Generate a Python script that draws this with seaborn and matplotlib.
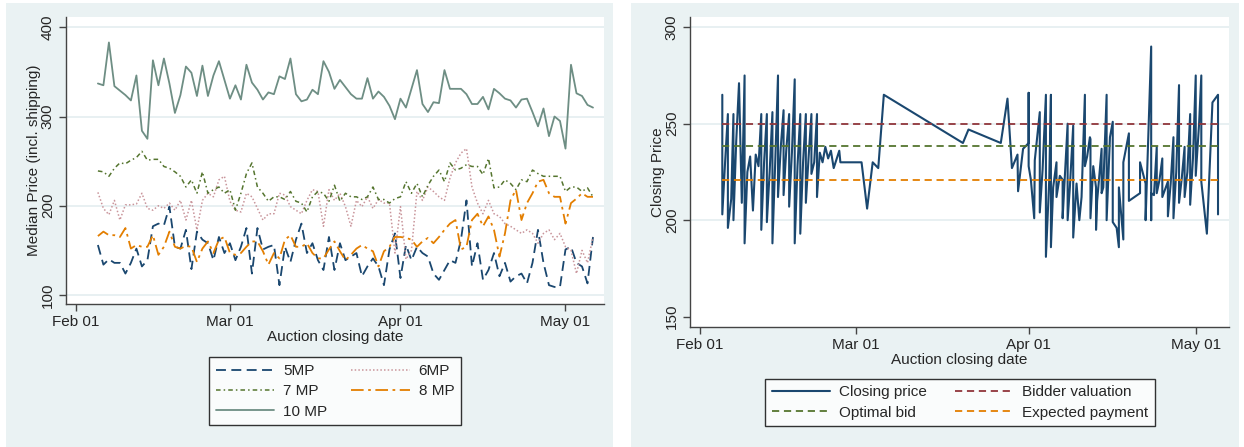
import numpy as np
import pandas as pd
import matplotlib
matplotlib.use("Agg")
import matplotlib.pyplot as plt
import matplotlib.dates as mdates
from matplotlib.patches import Rectangle
import seaborn as sns

# ---------------- data ----------------
start_left = "2007-02-05"   # first auction day of the left panel (daily medians)
n_days = 91

mp5 = [156,134,140,136,136,124,136,152,132,139,
       177,180,178,199,154,152,173,129,171,162,
       158,139,165,147,158,139,154,175,124,175,
       151,154,156,111,154,137,162,180,147,158,
       139,128,165,128,158,139,143,147,121,132,
       141,132,111,151,169,119,156,139,154,147,
       143,124,117,128,139,136,162,206,132,158,
       117,128,147,121,136,115,121,124,113,136,
       173,136,111,109,109,151,154,136,132,113,165]

mp6 = [215,197,190,206,184,201,201,202,214,197,
       195,200,197,203,195,206,184,206,173,206,
       214,210,229,233,205,195,193,214,210,197,
       184,191,191,214,212,199,195,191,206,218,
       216,177,218,206,214,199,177,206,199,210,
       197,207,203,203,147,199,140,150,216,206,
       221,216,210,206,231,248,259,264,221,203,
       191,206,191,188,180,177,173,169,173,169,
       158,169,173,162,169,154,150,124,150,136,165]

mp7 = [239,238,233,242,248,247,251,254,261,251,
       252,252,244,242,238,233,221,229,214,238,
       214,218,221,214,218,195,214,236,248,221,
       214,205,210,210,207,216,205,203,193,210,
       216,214,205,223,205,214,210,210,207,210,
       221,207,207,203,208,210,227,214,225,210,
       223,233,240,227,248,240,242,246,244,244,
       235,253,220,221,229,225,218,229,227,240,
       236,233,233,233,233,216,221,221,216,220,210]

mp8 = [166,171,167,167,165,175,152,156,154,154,
       167,145,154,171,154,152,155,154,137,152,
       160,147,162,165,147,145,147,154,160,160,
       149,134,147,141,162,167,154,154,158,147,
       141,141,151,160,149,139,145,152,156,152,
       149,132,149,154,165,165,164,162,154,160,
       164,158,165,173,180,184,151,154,184,191,
       177,188,173,143,169,206,218,184,203,214,
       227,229,214,210,210,180,203,208,214,210,210]

mp10 = [337,335,383,334,329,324,318,346,284,275,
        363,335,365,337,304,324,356,349,323,357,
        323,346,362,341,320,335,319,358,338,330,
        319,327,325,345,342,365,325,317,319,330,
        325,362,350,331,341,333,325,320,320,343,
        320,328,322,312,297,320,310,331,352,314,
        305,316,315,352,331,331,331,325,314,314,
        322,308,331,326,320,318,310,319,320,305,
        289,309,278,300,295,264,358,326,323,313,310]

left_labels = ["5MP", "6MP", "7 MP", "8 MP", "10 MP"]

# right panel: individual auctions (closing time in days after Feb 01, price)
base_date = "2007-02-01"
cp_day = [4,4,4.5,5,5,5.6,6,6,6.5,7,7.5,8,8,8.5,9,9.5,10,10.5,
          11,11,11.5,12,12,12.5,13,13,13.5,14,14,14.5,15,15,15.5,
          16,16,16.5,17,17,17.5,18,18,18.5,19,19,19.5,20,20,20.5,
          21,21,21.5,22,22.5,23,23.5,24,25,25.2,29,30,31,32,33,
          47.2,48.2,54,55.2,56,57,57.1,58,59,59,59,59.4,60,60.1,
          61,61,61.5,62.1,62.1,62.7,63,63,63.4,64,64,64.6,65.1,65.1,
          66,66,66.4,67,67,67.6,68.1,68.5,69.1,69.1,69.5,70,70.1,70.1,
          70.6,71.1,71.1,71.3,72.1,72.1,72.4,73,73,73.6,74.1,74.1,74.8,
          75.2,75.2,76,76,77,77,79,79,80,80,81,81,81,81.5,82,82,82.5,
          83,83,84,84,84.5,85,85,85.5,86,86,86.5,87,87,87.5,88,88,88.5,
          89,89,89.6,90,90,91,92,93,93]
cp_price = [265,203,230,255,196,211,255,200,241,271,209,275,188,225,233,205,234,228,
            255,195,230,255,199,225,256,188,230,275,212,238,257,213,237,
            255,207,235,273,188,228,255,193,230,255,209,233,255,224,230,
            255,212,235,230,238,232,236,227,236,230,230,206,230,227,265,
            240,247,240,263,227,234,215,237,240,266,228,221,201,231,
            256,204,226,265,181,221,265,186,217,230,212,223,221,201,
            250,200,217,249,191,219,200,212,265,228,233,243,242,201,
            228,217,195,210,237,214,217,265,200,243,251,199,196,
            186,217,190,230,245,210,214,230,219,200,290,200,214,213,238,214,221,
            232,212,220,202,219,243,201,225,270,209,222,238,212,225,255,208,232,
            275,223,250,275,220,193,261,265,203]

ref_first_day = 4
ref_last_day = 93
bidder_valuation = 250
optimal_bid = 238.5
expected_payment = 221

right_labels = ["Closing price", "Bidder valuation", "Optimal bid", "Expected payment"]

# ---------------- style ----------------
sns.set_style("ticks")
plt.rcParams["font.family"] = ["Liberation Sans", "DejaVu Sans"]
plt.rcParams["font.size"] = 11

NAVY = "#1A476F"
MAROON = "#90353B"
PINK = "#C9959B"
GREEN = "#55752F"
ORANGE = "#E37E00"
TEAL = "#6E8E84"
BG = "#EAF2F3"
GRID = "#E4EEF0"

W, H = 1244, 447
fig = plt.figure(figsize=(W / 100, H / 100), dpi=100, facecolor="white")

# panel backgrounds
fig.add_artist(Rectangle((6 / W, 0), 607 / W, 444 / H, transform=fig.transFigure,
                         facecolor=BG, edgecolor="none", zorder=-10))
fig.add_artist(Rectangle((631 / W, 0), 608 / W, 444 / H, transform=fig.transFigure,
                         facecolor=BG, edgecolor="none", zorder=-10))

axL = fig.add_axes([66 / W, 1 - 304 / H, 538 / W, 287 / H])
axR = fig.add_axes([690 / W, 1 - 326.7 / H, 538.6 / W, 309.7 / H])

# ---------------- left panel ----------------
dates = pd.date_range(start_left, periods=n_days, freq="D")
dfL = pd.DataFrame({"date": dates, "5MP": mp5, "6MP": mp6, "7 MP": mp7,
                    "8 MP": mp8, "10 MP": mp10})

styles_left = {
    "5MP": dict(color=NAVY, lw=1.3, ls=(0, (5.5, 3))),
    "6MP": dict(color=PINK, lw=1.1, ls=(0, (1, 1.4))),
    "7 MP": dict(color=GREEN, lw=1.1, ls=(0, (3, 2, 1, 2))),
    "8 MP": dict(color=ORANGE, lw=1.3, ls=(0, (7, 2.5, 1.5, 2.5))),
    "10 MP": dict(color=TEAL, lw=1.3, ls="-"),
}
for lab in left_labels:
    st = styles_left[lab]
    sns.lineplot(data=dfL, x="date", y=lab, ax=axL, color=st["color"],
                 linewidth=st["lw"], linestyle=st["ls"], label=lab,
                 estimator=None, sort=False, legend=False)

# ---------------- right panel ----------------
base = pd.Timestamp(base_date)
dfR = pd.DataFrame({"date": base + pd.to_timedelta(cp_day, unit="D"), "price": cp_price})
sns.lineplot(data=dfR, x="date", y="price", ax=axR, color=NAVY, linewidth=1.5,
             estimator=None, sort=False, label="Closing price", legend=False)

ref_dates = [base + pd.Timedelta(days=ref_first_day), base + pd.Timedelta(days=ref_last_day)]
for lab, val, col in [("Bidder valuation", bidder_valuation, MAROON),
                      ("Optimal bid", optimal_bid, GREEN),
                      ("Expected payment", expected_payment, ORANGE)]:
    dref = pd.DataFrame({"date": ref_dates, "v": [val, val]})
    sns.lineplot(data=dref, x="date", y="v", ax=axR, color=col, linewidth=1.3,
                 linestyle=(0, (4, 2.6)), label=lab, estimator=None, legend=False)

# ---------------- axes formatting ----------------
def fmt(ax, ylim, yticks, grid_ticks, ylabel, xlim_days):
    ax.set_facecolor("white")
    ax.set_ylim(*ylim)
    ax.set_xlim(base + pd.Timedelta(days=xlim_days[0]), base + pd.Timedelta(days=xlim_days[1]))
    ax.set_yticks(yticks)
    ax.set_xticks([pd.Timestamp(d) for d in ["2007-02-01", "2007-03-01", "2007-04-01", "2007-05-01"]])
    ax.xaxis.set_major_formatter(mdates.DateFormatter("%b %d"))
    for g in grid_ticks:
        ax.axhline(g, color=GRID, lw=1.2, zorder=0)
    for s in ["top", "right"]:
        ax.spines[s].set_visible(False)
    for s in ["left", "bottom"]:
        ax.spines[s].set_color("#444444")
        ax.spines[s].set_linewidth(1.0)
    ax.tick_params(axis="both", direction="out", length=5, width=1.0, color="#444444",
                   labelsize=11, pad=3)
    ax.tick_params(axis="y", labelrotation=90)
    for t in ax.get_yticklabels():
        t.set_va("center")
    ax.set_xlabel("Auction closing date", fontsize=11, labelpad=1)
    ax.set_ylabel(ylabel, fontsize=11, labelpad=0)

fmt(axL, (89.9, 411.5), [100, 200, 300, 400], [100, 200, 300, 400],
    "Median Price (incl. shipping)", (-1.8, 96.0))
fmt(axR, (144.8, 305.3), [150, 200, 250, 300], [200, 250, 300],
    "Closing Price", (-1.8, 94.9))

# ---------------- legends ----------------
hL = {l.get_label(): l for l in axL.get_lines()}
orderL = ["5MP", "7 MP", "10 MP", "6MP", "8 MP"]
legL = axL.legend([hL[k] for k in orderL], orderL, loc="center",
                  bbox_to_anchor=(335 / W, 1 - 391.4 / H), bbox_transform=fig.transFigure,
                  ncol=2, frameon=True, fancybox=False, edgecolor="black",
                  handlelength=3.8, handletextpad=0.6, columnspacing=1.6,
                  labelspacing=0.4, borderpad=0.45, fontsize=11)
legL.get_frame().set_linewidth(1.0)

hR = {l.get_label(): l for l in axR.get_lines()}
orderR = ["Closing price", "Optimal bid", "Bidder valuation", "Expected payment"]
legR = axR.legend([hR[k] for k in orderR], orderR, loc="center",
                  bbox_to_anchor=(960 / W, 1 - 402.5 / H), bbox_transform=fig.transFigure,
                  ncol=2, frameon=True, fancybox=False, edgecolor="black",
                  handlelength=3.8, handletextpad=0.6, columnspacing=1.8,
                  labelspacing=0.4, borderpad=0.45, fontsize=11)
legR.get_frame().set_linewidth(1.0)

fig.savefig("out.png", dpi=100, facecolor="white")
